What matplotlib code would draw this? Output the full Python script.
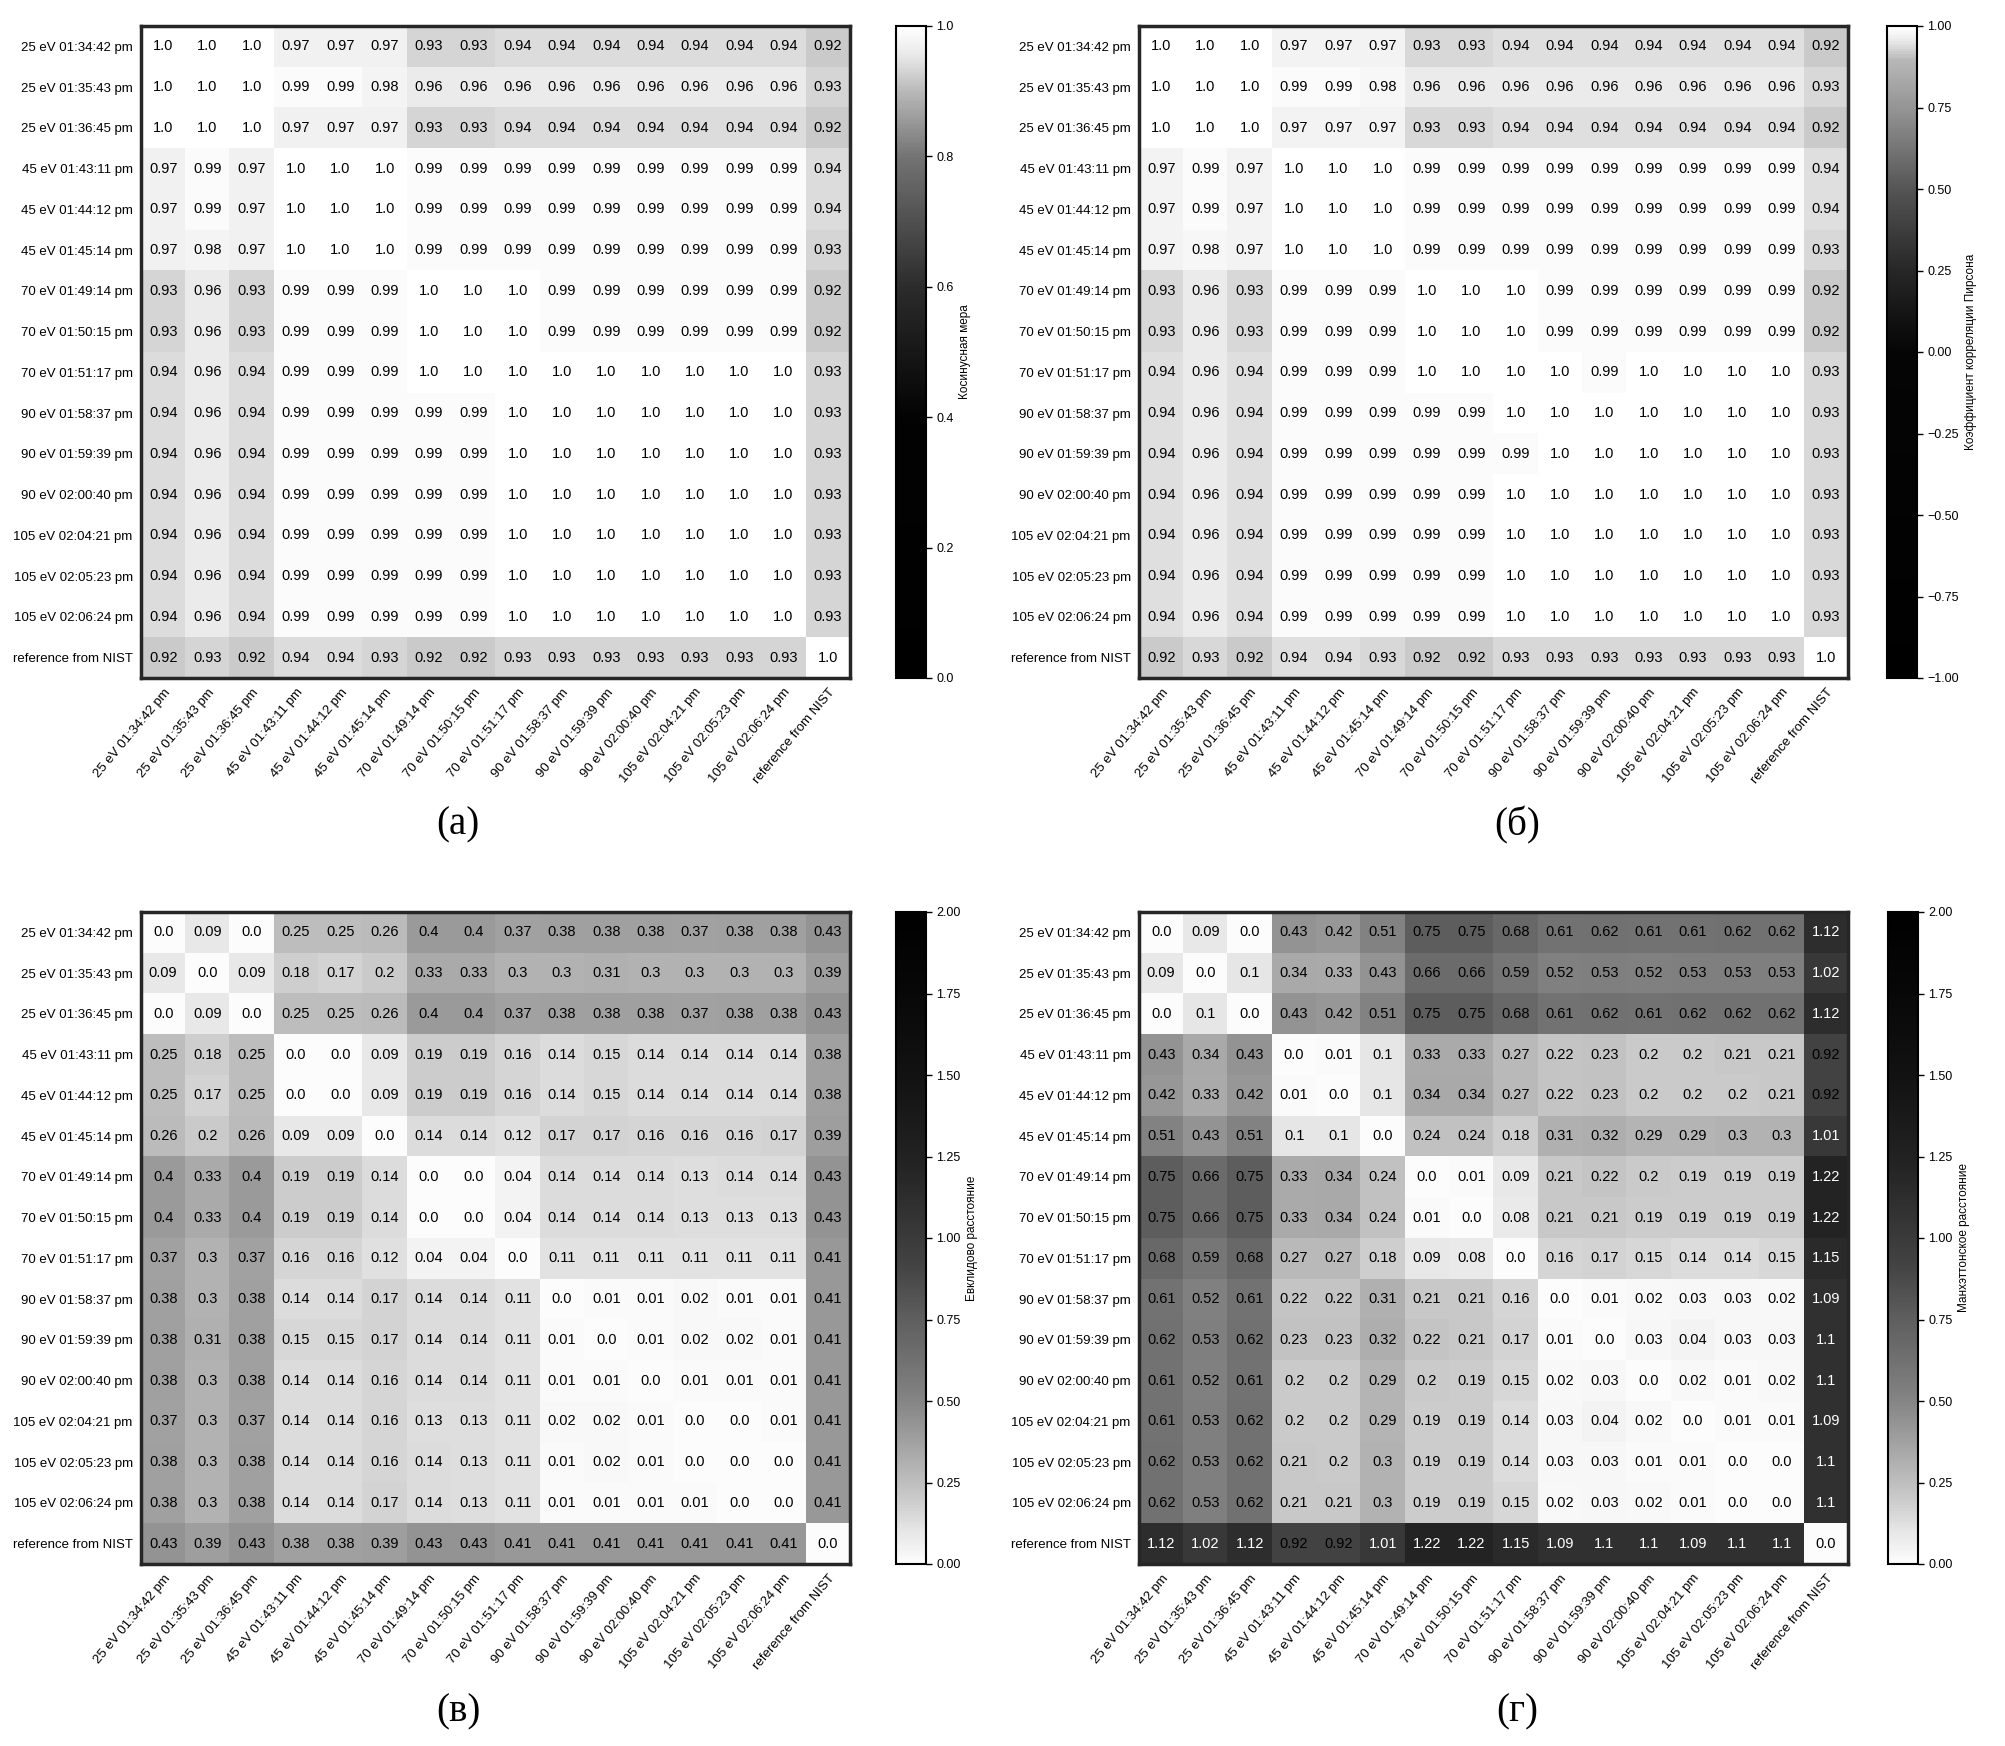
import numpy as np
import matplotlib
matplotlib.use("Agg")
import matplotlib.pyplot as plt
from matplotlib.colors import LinearSegmentedColormap

labels = ["25 eV 01:34:42 pm", "25 eV 01:35:43 pm", "25 eV 01:36:45 pm",
          "45 eV 01:43:11 pm", "45 eV 01:44:12 pm", "45 eV 01:45:14 pm",
          "70 eV 01:49:14 pm", "70 eV 01:50:15 pm", "70 eV 01:51:17 pm",
          "90 eV 01:58:37 pm", "90 eV 01:59:39 pm", "90 eV 02:00:40 pm",
          "105 eV 02:04:21 pm", "105 eV 02:05:23 pm", "105 eV 02:06:24 pm",
          "reference from NIST"]

# (а) косинусная мера
cosine = [
    [1.0, 1.0, 1.0, 0.97, 0.97, 0.97, 0.93, 0.93, 0.94, 0.94, 0.94, 0.94, 0.94, 0.94, 0.94, 0.92],
    [1.0, 1.0, 1.0, 0.99, 0.99, 0.98, 0.96, 0.96, 0.96, 0.96, 0.96, 0.96, 0.96, 0.96, 0.96, 0.93],
    [1.0, 1.0, 1.0, 0.97, 0.97, 0.97, 0.93, 0.93, 0.94, 0.94, 0.94, 0.94, 0.94, 0.94, 0.94, 0.92],
    [0.97, 0.99, 0.97, 1.0, 1.0, 1.0, 0.99, 0.99, 0.99, 0.99, 0.99, 0.99, 0.99, 0.99, 0.99, 0.94],
    [0.97, 0.99, 0.97, 1.0, 1.0, 1.0, 0.99, 0.99, 0.99, 0.99, 0.99, 0.99, 0.99, 0.99, 0.99, 0.94],
    [0.97, 0.98, 0.97, 1.0, 1.0, 1.0, 0.99, 0.99, 0.99, 0.99, 0.99, 0.99, 0.99, 0.99, 0.99, 0.93],
    [0.93, 0.96, 0.93, 0.99, 0.99, 0.99, 1.0, 1.0, 1.0, 0.99, 0.99, 0.99, 0.99, 0.99, 0.99, 0.92],
    [0.93, 0.96, 0.93, 0.99, 0.99, 0.99, 1.0, 1.0, 1.0, 0.99, 0.99, 0.99, 0.99, 0.99, 0.99, 0.92],
    [0.94, 0.96, 0.94, 0.99, 0.99, 0.99, 1.0, 1.0, 1.0, 1.0, 1.0, 1.0, 1.0, 1.0, 1.0, 0.93],
    [0.94, 0.96, 0.94, 0.99, 0.99, 0.99, 0.99, 0.99, 1.0, 1.0, 1.0, 1.0, 1.0, 1.0, 1.0, 0.93],
    [0.94, 0.96, 0.94, 0.99, 0.99, 0.99, 0.99, 0.99, 1.0, 1.0, 1.0, 1.0, 1.0, 1.0, 1.0, 0.93],
    [0.94, 0.96, 0.94, 0.99, 0.99, 0.99, 0.99, 0.99, 1.0, 1.0, 1.0, 1.0, 1.0, 1.0, 1.0, 0.93],
    [0.94, 0.96, 0.94, 0.99, 0.99, 0.99, 0.99, 0.99, 1.0, 1.0, 1.0, 1.0, 1.0, 1.0, 1.0, 0.93],
    [0.94, 0.96, 0.94, 0.99, 0.99, 0.99, 0.99, 0.99, 1.0, 1.0, 1.0, 1.0, 1.0, 1.0, 1.0, 0.93],
    [0.94, 0.96, 0.94, 0.99, 0.99, 0.99, 0.99, 0.99, 1.0, 1.0, 1.0, 1.0, 1.0, 1.0, 1.0, 0.93],
    [0.92, 0.93, 0.92, 0.94, 0.94, 0.93, 0.92, 0.92, 0.93, 0.93, 0.93, 0.93, 0.93, 0.93, 0.93, 1.0],
]

# (б) коэффициент корреляции Пирсона
pearson = [
    [1.0, 1.0, 1.0, 0.97, 0.97, 0.97, 0.93, 0.93, 0.94, 0.94, 0.94, 0.94, 0.94, 0.94, 0.94, 0.92],
    [1.0, 1.0, 1.0, 0.99, 0.99, 0.98, 0.96, 0.96, 0.96, 0.96, 0.96, 0.96, 0.96, 0.96, 0.96, 0.93],
    [1.0, 1.0, 1.0, 0.97, 0.97, 0.97, 0.93, 0.93, 0.94, 0.94, 0.94, 0.94, 0.94, 0.94, 0.94, 0.92],
    [0.97, 0.99, 0.97, 1.0, 1.0, 1.0, 0.99, 0.99, 0.99, 0.99, 0.99, 0.99, 0.99, 0.99, 0.99, 0.94],
    [0.97, 0.99, 0.97, 1.0, 1.0, 1.0, 0.99, 0.99, 0.99, 0.99, 0.99, 0.99, 0.99, 0.99, 0.99, 0.94],
    [0.97, 0.98, 0.97, 1.0, 1.0, 1.0, 0.99, 0.99, 0.99, 0.99, 0.99, 0.99, 0.99, 0.99, 0.99, 0.93],
    [0.93, 0.96, 0.93, 0.99, 0.99, 0.99, 1.0, 1.0, 1.0, 0.99, 0.99, 0.99, 0.99, 0.99, 0.99, 0.92],
    [0.93, 0.96, 0.93, 0.99, 0.99, 0.99, 1.0, 1.0, 1.0, 0.99, 0.99, 0.99, 0.99, 0.99, 0.99, 0.92],
    [0.94, 0.96, 0.94, 0.99, 0.99, 0.99, 1.0, 1.0, 1.0, 1.0, 0.99, 1.0, 1.0, 1.0, 1.0, 0.93],
    [0.94, 0.96, 0.94, 0.99, 0.99, 0.99, 0.99, 0.99, 1.0, 1.0, 1.0, 1.0, 1.0, 1.0, 1.0, 0.93],
    [0.94, 0.96, 0.94, 0.99, 0.99, 0.99, 0.99, 0.99, 0.99, 1.0, 1.0, 1.0, 1.0, 1.0, 1.0, 0.93],
    [0.94, 0.96, 0.94, 0.99, 0.99, 0.99, 0.99, 0.99, 1.0, 1.0, 1.0, 1.0, 1.0, 1.0, 1.0, 0.93],
    [0.94, 0.96, 0.94, 0.99, 0.99, 0.99, 0.99, 0.99, 1.0, 1.0, 1.0, 1.0, 1.0, 1.0, 1.0, 0.93],
    [0.94, 0.96, 0.94, 0.99, 0.99, 0.99, 0.99, 0.99, 1.0, 1.0, 1.0, 1.0, 1.0, 1.0, 1.0, 0.93],
    [0.94, 0.96, 0.94, 0.99, 0.99, 0.99, 0.99, 0.99, 1.0, 1.0, 1.0, 1.0, 1.0, 1.0, 1.0, 0.93],
    [0.92, 0.93, 0.92, 0.94, 0.94, 0.93, 0.92, 0.92, 0.93, 0.93, 0.93, 0.93, 0.93, 0.93, 0.93, 1.0],
]

# (в) евклидово расстояние
euclid = [
    [0.0, 0.09, 0.0, 0.25, 0.25, 0.26, 0.4, 0.4, 0.37, 0.38, 0.38, 0.38, 0.37, 0.38, 0.38, 0.43],
    [0.09, 0.0, 0.09, 0.18, 0.17, 0.2, 0.33, 0.33, 0.3, 0.3, 0.31, 0.3, 0.3, 0.3, 0.3, 0.39],
    [0.0, 0.09, 0.0, 0.25, 0.25, 0.26, 0.4, 0.4, 0.37, 0.38, 0.38, 0.38, 0.37, 0.38, 0.38, 0.43],
    [0.25, 0.18, 0.25, 0.0, 0.0, 0.09, 0.19, 0.19, 0.16, 0.14, 0.15, 0.14, 0.14, 0.14, 0.14, 0.38],
    [0.25, 0.17, 0.25, 0.0, 0.0, 0.09, 0.19, 0.19, 0.16, 0.14, 0.15, 0.14, 0.14, 0.14, 0.14, 0.38],
    [0.26, 0.2, 0.26, 0.09, 0.09, 0.0, 0.14, 0.14, 0.12, 0.17, 0.17, 0.16, 0.16, 0.16, 0.17, 0.39],
    [0.4, 0.33, 0.4, 0.19, 0.19, 0.14, 0.0, 0.0, 0.04, 0.14, 0.14, 0.14, 0.13, 0.14, 0.14, 0.43],
    [0.4, 0.33, 0.4, 0.19, 0.19, 0.14, 0.0, 0.0, 0.04, 0.14, 0.14, 0.14, 0.13, 0.13, 0.13, 0.43],
    [0.37, 0.3, 0.37, 0.16, 0.16, 0.12, 0.04, 0.04, 0.0, 0.11, 0.11, 0.11, 0.11, 0.11, 0.11, 0.41],
    [0.38, 0.3, 0.38, 0.14, 0.14, 0.17, 0.14, 0.14, 0.11, 0.0, 0.01, 0.01, 0.02, 0.01, 0.01, 0.41],
    [0.38, 0.31, 0.38, 0.15, 0.15, 0.17, 0.14, 0.14, 0.11, 0.01, 0.0, 0.01, 0.02, 0.02, 0.01, 0.41],
    [0.38, 0.3, 0.38, 0.14, 0.14, 0.16, 0.14, 0.14, 0.11, 0.01, 0.01, 0.0, 0.01, 0.01, 0.01, 0.41],
    [0.37, 0.3, 0.37, 0.14, 0.14, 0.16, 0.13, 0.13, 0.11, 0.02, 0.02, 0.01, 0.0, 0.0, 0.01, 0.41],
    [0.38, 0.3, 0.38, 0.14, 0.14, 0.16, 0.14, 0.13, 0.11, 0.01, 0.02, 0.01, 0.0, 0.0, 0.0, 0.41],
    [0.38, 0.3, 0.38, 0.14, 0.14, 0.17, 0.14, 0.13, 0.11, 0.01, 0.01, 0.01, 0.01, 0.0, 0.0, 0.41],
    [0.43, 0.39, 0.43, 0.38, 0.38, 0.39, 0.43, 0.43, 0.41, 0.41, 0.41, 0.41, 0.41, 0.41, 0.41, 0.0],
]

# (г) манхэттонское расстояние
manhattan = [
    [0.0, 0.09, 0.0, 0.43, 0.42, 0.51, 0.75, 0.75, 0.68, 0.61, 0.62, 0.61, 0.61, 0.62, 0.62, 1.12],
    [0.09, 0.0, 0.1, 0.34, 0.33, 0.43, 0.66, 0.66, 0.59, 0.52, 0.53, 0.52, 0.53, 0.53, 0.53, 1.02],
    [0.0, 0.1, 0.0, 0.43, 0.42, 0.51, 0.75, 0.75, 0.68, 0.61, 0.62, 0.61, 0.62, 0.62, 0.62, 1.12],
    [0.43, 0.34, 0.43, 0.0, 0.01, 0.1, 0.33, 0.33, 0.27, 0.22, 0.23, 0.2, 0.2, 0.21, 0.21, 0.92],
    [0.42, 0.33, 0.42, 0.01, 0.0, 0.1, 0.34, 0.34, 0.27, 0.22, 0.23, 0.2, 0.2, 0.2, 0.21, 0.92],
    [0.51, 0.43, 0.51, 0.1, 0.1, 0.0, 0.24, 0.24, 0.18, 0.31, 0.32, 0.29, 0.29, 0.3, 0.3, 1.01],
    [0.75, 0.66, 0.75, 0.33, 0.34, 0.24, 0.0, 0.01, 0.09, 0.21, 0.22, 0.2, 0.19, 0.19, 0.19, 1.22],
    [0.75, 0.66, 0.75, 0.33, 0.34, 0.24, 0.01, 0.0, 0.08, 0.21, 0.21, 0.19, 0.19, 0.19, 0.19, 1.22],
    [0.68, 0.59, 0.68, 0.27, 0.27, 0.18, 0.09, 0.08, 0.0, 0.16, 0.17, 0.15, 0.14, 0.14, 0.15, 1.15],
    [0.61, 0.52, 0.61, 0.22, 0.22, 0.31, 0.21, 0.21, 0.16, 0.0, 0.01, 0.02, 0.03, 0.03, 0.02, 1.09],
    [0.62, 0.53, 0.62, 0.23, 0.23, 0.32, 0.22, 0.21, 0.17, 0.01, 0.0, 0.03, 0.04, 0.03, 0.03, 1.1],
    [0.61, 0.52, 0.61, 0.2, 0.2, 0.29, 0.2, 0.19, 0.15, 0.02, 0.03, 0.0, 0.02, 0.01, 0.02, 1.1],
    [0.61, 0.53, 0.62, 0.2, 0.2, 0.29, 0.19, 0.19, 0.14, 0.03, 0.04, 0.02, 0.0, 0.01, 0.01, 1.09],
    [0.62, 0.53, 0.62, 0.21, 0.2, 0.3, 0.19, 0.19, 0.14, 0.03, 0.03, 0.01, 0.01, 0.0, 0.0, 1.1],
    [0.62, 0.53, 0.62, 0.21, 0.21, 0.3, 0.19, 0.19, 0.15, 0.02, 0.03, 0.02, 0.01, 0.0, 0.0, 1.1],
    [1.12, 1.02, 1.12, 0.92, 0.92, 1.01, 1.22, 1.22, 1.15, 1.09, 1.1, 1.1, 1.09, 1.1, 1.1, 0.0],
]

captions = ["(а)", "(б)", "(в)", "(г)"]
cbar_titles = ["Косинусная мера", "Коэффициент корреляции Пирсона",
               "Евклидово расстояние", "Манхэттонское расстояние"]


def gray_cmap(name, nodes):
    # nodes: (позиция 0..1, уровень серого)
    return LinearSegmentedColormap.from_list(name, [(p, (g, g, g)) for p, g in nodes])


cmap_cos = gray_cmap("cos", [(0, 0.0), (0.4, 0.01), (0.6, 0.17), (0.8, 0.45), (0.9, 0.72),
                             (0.92, 0.79), (0.94, 0.86), (0.96, 0.92), (0.98, 0.96), (1.0, 1.0)])
cmap_pear = gray_cmap("pear", [(0, 0.0), (0.5, 0.02), (0.625, 0.15), (0.75, 0.33), (0.875, 0.58),
                               (0.95, 0.72), (0.96, 0.79), (0.97, 0.86), (0.98, 0.92),
                               (0.99, 0.96), (1.0, 1.0)])
cmap_dist = gray_cmap("dist", [(0, 0.99), (0.05, 0.9), (0.1, 0.79), (0.165, 0.67), (0.215, 0.58),
                               (0.255, 0.51), (0.305, 0.45), (0.375, 0.37), (0.46, 0.26),
                               (0.56, 0.18), (0.61, 0.14), (0.75, 0.07), (0.875, 0.03), (1.0, 0.0)])

panels = [
    (cosine, cmap_cos, 0.0, 1.0, np.arange(0, 1.01, 0.2), "{:.1f}"),
    (pearson, cmap_pear, -1.0, 1.0, np.arange(-1, 1.01, 0.25), "{:.2f}"),
    (euclid, cmap_dist, 0.0, 2.0, np.arange(0, 2.01, 0.25), "{:.2f}"),
    (manhattan, cmap_dist, 0.0, 2.0, np.arange(0, 2.01, 0.25), "{:.2f}"),
]

W, H = 2006, 1746
fig = plt.figure(figsize=(W / 100, H / 100), dpi=100)
fig.patch.set_facecolor("white")

narrow = ["Liberation Sans Narrow", "Liberation Sans", "DejaVu Sans"]
sans = ["Liberation Sans", "DejaVu Sans"]

# позиции в пикселях: слева, сверху
ax_pos = [(141, 26), (1139, 26), (141, 912), (1139, 912)]
cb_left = [896, 1887, 896, 1888]
ax_w, ax_h = 709, 652
cb_w = 30
cap_pos = [(458, 825), (1517, 825), (458, 1712), (1517, 1712)]

for k, (data, cmap, vmin, vmax, cticks, cfmt) in enumerate(panels):
    m = np.array(data)
    n = len(labels)
    x0, y0 = ax_pos[k]
    ax = fig.add_axes([x0 / W, 1 - (y0 + ax_h) / H, ax_w / W, ax_h / H])
    im = ax.imshow(m, cmap=cmap, vmin=vmin, vmax=vmax, aspect="auto", interpolation="nearest")

    for i in range(n):
        for j in range(n):
            v = m[i, j]
            g = cmap((v - vmin) / (vmax - vmin))[0]
            col = "white" if g < 0.235 else "black"
            ax.text(j, i, str(v), ha="center", va="center", fontsize=10.5,
                    color=col, family=narrow)

    ax.set_xticks(range(n))
    ax.set_yticks(range(n))
    ax.set_xticklabels(labels, rotation=50, ha="right", rotation_mode="anchor",
                       fontsize=9.5, family=narrow)
    ax.set_yticklabels(labels, fontsize=9.5, family=narrow)
    ax.tick_params(length=0, pad=6)
    for s in ax.spines.values():
        s.set_linewidth(2.5)
        s.set_color("#262626")

    cax = fig.add_axes([cb_left[k] / W, 1 - (y0 + ax_h) / H, cb_w / W, ax_h / H])
    cb = fig.colorbar(im, cax=cax)
    cb.set_ticks(cticks)
    cb.set_ticklabels([cfmt.format(t).replace("-", "\u2212") for t in cticks])
    cb.outline.set_linewidth(1.5)
    cax.tick_params(labelsize=9, length=4, width=1)
    for t in cax.get_yticklabels():
        t.set_family(sans)
    cb.set_label(cbar_titles[k], fontsize=8.5, family=sans, labelpad=4)

    cx, cy = cap_pos[k]
    fig.text(cx / W, 1 - cy / H, captions[k], ha="center", va="center",
             fontsize=28, family=["Liberation Serif", "DejaVu Serif"])

fig.savefig("out.png", dpi=100, facecolor="white")
